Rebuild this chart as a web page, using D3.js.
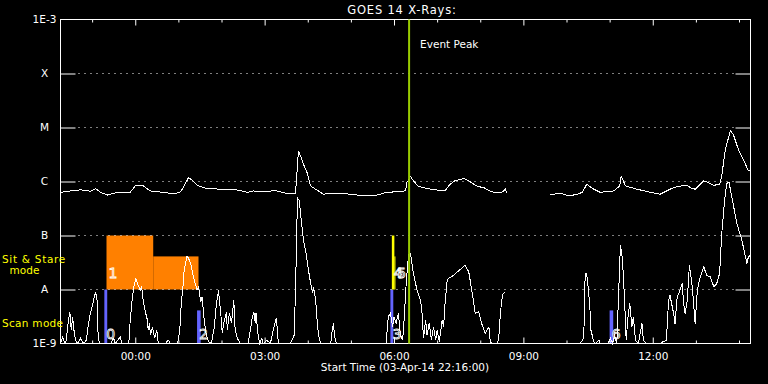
<!DOCTYPE html>
<html>
<head>
<meta charset="utf-8">
<script src="https://cdn.jsdelivr.net/npm/d3@7"></script>
<style>
body { margin: 0; background: #000; }
svg { display: block; background: #000; }
text { font-family: "DejaVu Sans", sans-serif; }
</style>
</head>
<body>
<svg id="main" width="768" height="384"></svg>
<script>
// GOES 14 X-ray flux, minutes after the start time and flux in W/m^2
var startTime = Date.UTC(2014, 3, 3, 22, 16);
var spanMinutes = 960;
var titleText = "GOES 14 X-Rays:";
var startLabel = "Start Time (03-Apr-14 22:16:00)";

var levelValues = [1e-3, 1e-4, 1e-5, 1e-6, 1e-7, 1e-8, 1e-9];
var levelLabels = ["1E-3", "X", "M", "C", "B", "A", "1E-9"];

// 1-8 A channel
var longChannel = [
  [0,6.3e-7],[14,6.7e-7],[28,7.0e-7],[42,6.6e-7],[49,7.4e-7],[56,6.3e-7],[65,5.6e-7],[79,6.3e-7],
  [97,6.3e-7],[104,8.3e-7],[115,8.3e-7],[125,6.7e-7],[143,6.3e-7],[157,5.9e-7],[167,6.4e-7],
  [172,8.3e-7],[178,1.17e-6],[183,1.07e-6],[190,8.5e-7],[204,7.4e-7],[223,7.2e-7],[232,7.0e-7],
  [241,7.2e-7],[260,6.3e-7],[268,6.7e-7],[282,6.4e-7],[299,6.8e-7],[315,6.0e-7],[327,6.1e-7],
  [329,1.47e-6],[331,3.69e-6],[334,2.98e-6],[338,2.09e-6],[343,1.47e-6],[348,8.3e-7],[355,7.2e-7],
  [366,5.8e-7],[376,6.1e-7],[394,6.0e-7],[413,5.6e-7],[440,5.6e-7],[454,6.3e-7],[463,6.4e-7],
  [480,6.7e-7],[482,9.6e-7],[487,1.24e-6],[491,1.03e-6],[498,8.1e-7],[515,7.2e-7],[535,6.7e-7],
  [540,8.3e-7],[547,1.01e-6],[561,1.14e-6],[568,1.03e-6],[580,8.1e-7],[589,7.7e-7],[600,6.4e-7],
  [614,6.3e-7],[619,7.2e-7],[621,6.1e-7],[650,null],[681,5.6e-7],[695,6.1e-7],[707,5.4e-7],
  [719,5.8e-7],[726,6.3e-7],[729,7.4e-7],[732,8.9e-7],[742,7.2e-7],[751,6.3e-7],[770,6.7e-7],
  [778,8.3e-7],[780,1.27e-6],[786,8.3e-7],[802,7.2e-7],[821,6.3e-7],[834,5.8e-7],[848,7.2e-7],
  [858,8.1e-7],[872,8.5e-7],[876,7.7e-7],[883,7.2e-7],[895,1.03e-6],[899,9.9e-7],[909,8.5e-7],
  [917,8.9e-7],[920,1.27e-6],[925,3.96e-6],[932,8.65e-6],[936,7.5e-6],[943,3.96e-6],[953,2.09e-6],
  [957,1.57e-6],[960,1.64e-6]
];

// 0.5-4 A channel (values under 1e-9 sit on the floor)
var shortChannel = [
  [0,9e-10],[3,1.3e-9],[6,9e-10],[8,1.15e-9],[11,2.7e-9],[13,3.85e-9],[15,1.76e-9],[17,3.1e-9],
  [18,2.03e-9],[21,1.15e-9],[24,9e-10],[28,1.25e-9],[32,9e-10],[36,1.15e-9],[39,2.38e-9],
  [42,3.85e-9],[45,5.5e-9],[47,7.2e-9],[49,9.0e-9],[51,6.3e-9],[52,1.76e-9],[54,9e-10],[70,9e-10],
  [74,1.25e-9],[76,9e-10],[83,1.32e-9],[86,9e-10],[95,9e-10],[97,2.7e-9],[100,7.3e-9],[103,1.31e-8],
  [105,1.6e-8],[107,1.31e-8],[111,9.7e-9],[113,1.12e-8],[115,6.3e-9],[118,3.85e-9],[121,2.7e-9],
  [122,1.76e-9],[124,2.38e-9],[125,1.42e-9],[128,2.03e-9],[131,1.25e-9],[134,1.76e-9],[136,9e-10],
  [146,9e-10],[150,1.15e-9],[153,9e-10],[163,9e-10],[166,1.76e-9],[168,5.5e-9],[170,9.7e-9],
  [172,2.28e-8],[176,4.1e-8],[178,3.8e-8],[181,3.07e-8],[185,1.71e-8],[190,9.7e-9],[192,1.12e-8],
  [195,5.9e-9],[197,7.3e-9],[200,2.7e-9],[203,1.42e-9],[206,1.07e-9],[210,9e-10],[214,2.03e-9],
  [217,5.5e-9],[220,9.7e-9],[221,6.3e-9],[223,3.64e-9],[225,1.55e-9],[228,2.7e-9],[231,3.85e-9],
  [232,1.76e-9],[235,3.64e-9],[238,2.38e-9],[241,6.3e-9],[242,3.85e-9],[243,1.76e-9],[246,1.25e-9],
  [250,9e-10],[261,9e-10],[264,1.76e-9],[267,3.1e-9],[269,3.85e-9],[271,2.38e-9],[272,3.64e-9],
  [275,1.42e-9],[277,9e-10],[280,1.25e-9],[282,9e-10],[287,1.15e-9],[292,9e-10],[296,1.76e-9],
  [300,2.94e-9],[302,1.76e-9],[303,9e-10],[320,9e-10],[325,1.42e-9],[327,9.7e-9],[329,1.92e-7],
  [330,4.9e-7],[332,4.5e-7],[335,1.92e-7],[338,8.2e-8],[341,5.3e-8],[345,2.28e-8],[348,1.31e-8],
  [351,8.5e-9],[352,1.12e-8],[355,6.3e-9],[357,2.7e-9],[359,1.42e-9],[362,9e-10],[376,9e-10],
  [378,1.76e-9],[380,2.38e-9],[381,1.42e-9],[384,9e-10],[453,9e-10],[456,3.1e-9],[459,3.64e-9],
  [462,2.03e-9],[464,3.1e-9],[467,2.38e-9],[470,3.64e-9],[473,1.42e-9],[476,1.15e-9],[478,2.7e-9],
  [481,1.31e-8],[484,4.1e-8],[486,4.97e-8],[488,3.8e-8],[491,2.0e-8],[496,9.7e-9],[501,6.3e-9],
  [503,3.64e-9],[505,1.25e-9],[508,2.7e-9],[510,1.42e-9],[513,2.38e-9],[516,1.15e-9],[519,2.03e-9],
  [522,1.15e-9],[524,1.76e-9],[527,1.07e-9],[531,2.7e-9],[533,2.03e-9],[535,5.5e-9],[538,1.49e-8],
  [540,1.6e-8],[547,1.84e-8],[556,2.34e-8],[563,2.82e-8],[568,2.12e-8],[573,8.4e-9],[577,3.6e-9],
  [582,3.85e-9],[586,2.34e-9],[591,1.55e-9],[596,2.03e-9],[598,1.07e-9],[602,9e-10],[608,9e-10],
  [610,1.42e-9],[612,3.64e-9],[614,6.3e-9],[616,8.5e-9],[619,9.0e-9],[650,null],[681,9e-10],
  [723,9e-10],[728,1.25e-9],[730,1.98e-8],[732,1.98e-8],[735,8.4e-9],[737,3.64e-9],[738,1.76e-9],
  [742,1.07e-9],[744,9e-10],[749,1.15e-9],[751,9e-10],[762,9e-10],[765,1.25e-9],[768,9e-10],
  [771,1.42e-9],[774,9e-10],[776,5.5e-9],[779,6.6e-8],[781,4.64e-8],[783,1.98e-8],[785,5.5e-9],
  [787,1.15e-9],[790,3.6e-9],[792,5.5e-9],[795,2.03e-9],[797,3.1e-9],[800,1.15e-9],[804,9e-10],
  [809,2.34e-9],[811,1.15e-9],[815,9e-10],[834,9e-10],[838,1.07e-9],[843,1.15e-9],[846,6.3e-9],
  [848,7.8e-9],[853,3.6e-9],[855,2.34e-9],[858,7.3e-9],[861,9.0e-9],[865,1.29e-8],[867,5.5e-9],
  [869,3.6e-9],[872,6.3e-9],[875,2.82e-8],[879,1.12e-8],[883,2.34e-9],[886,9.7e-9],[890,1.71e-8],
  [895,2.62e-8],[899,1.84e-8],[904,1.71e-8],[909,1.12e-8],[913,1.29e-8],[917,1.98e-8],[920,1.09e-7],
  [924,4.5e-7],[927,9.2e-7],[930,9.8e-7],[934,5.2e-7],[941,1.67e-7],[948,8.2e-8],[955,3.03e-8],
  [957,4.0e-8],[960,4.3e-8]
];

// observation blocks: label, start/end minute, bottom/top level
var obsIds   = ["0", "1", "", "2", "3", "4", "5", "6"];
var obsMode  = ["scan", "sit", "sit", "scan", "scan", "sit2", "sit2", "scan"];
var obsStart = [61, 64, 129, 190, 459, 461, 464.5, 764];
var obsEnd   = [65, 129, 192, 195, 463, 464.5, 466, 769];
var obsBase  = [1e-9, 1e-8, 1e-8, 1e-9, 1e-9, 1e-8, 1e-8, 1e-9];
var obsTop   = [1e-8, 1e-7, 4.1e-8, 4.1e-9, 1e-8, 1e-7, 4.1e-8, 4.1e-9];

var eventPeak = 485;

var margin = {top: 19, right: 18, bottom: 41, left: 60};
var svg = d3.select("#main"),
    width = +svg.attr("width") - margin.left - margin.right,
    height = +svg.attr("height") - margin.top - margin.bottom;

var t = function(m) { return new Date(startTime + m * 60000); };

var xScale = d3.scaleUtc()
        .domain([t(0), t(spanMinutes)])
        .range([0, width]),
    yScale = d3.scaleLog()
        .domain([1e-9, 1e-3])
        .range([height, 0])
        .clamp(true),
    modeColor = d3.scaleOrdinal()
        .domain(["scan", "sit", "sit2"])
        .range(["#6464ff", "#ff8000", "#ffff00"]),
    g = svg.append("g")
        .attr("transform", "translate(" + (margin.left + 0.5) + "," + (margin.top + 0.5) + ")");

// observation blocks
var obs = obsIds.map(function(id, i) {
    return {id: id, mode: obsMode[i], s: obsStart[i], e: obsEnd[i], b: obsBase[i], top: obsTop[i]};
});
g.selectAll(".obs").data(obs).enter().append("rect")
    .attr("class", "obs")
    .attr("x", function(d) { return xScale(t(d.s)); })
    .attr("width", function(d) { return xScale(t(d.e)) - xScale(t(d.s)); })
    .attr("y", function(d) { return yScale(d.top); })
    .attr("height", function(d) { return yScale(d.b) - yScale(d.top); })
    .attr("fill", function(d) { return modeColor(d.mode); });

// dotted level lines
g.selectAll(".grid").data(levelValues.slice(1, 6)).enter().append("line")
    .attr("class", "grid")
    .attr("x1", 18).attr("x2", width - 15)
    .attr("y1", function(d) { return yScale(d); })
    .attr("y2", function(d) { return yScale(d); })
    .attr("stroke", "#fff")
    .attr("stroke-dasharray", "1,5");

// curves
var line = d3.line()
    .defined(function(d) { return d[1] != null; })
    .x(function(d) { return xScale(t(d[0])); })
    .y(function(d) { return yScale(d[1]); });

[longChannel, shortChannel].forEach(function(series) {
    g.append("path")
        .attr("d", line(series))
        .attr("fill", "none")
        .attr("stroke", "#fff")
        .attr("stroke-width", 1)
        .attr("shape-rendering", "crispEdges");
});

// observation labels
g.selectAll(".obsLabel").data(obs.filter(function(d) { return d.id !== ""; })).enter().append("text")
    .attr("class", "obsLabel")
    .attr("x", function(d) { return xScale(t(d.s)) + 2 + (d.id === "5" ? 1 : 0); })
    .attr("y", function(d) { return d.mode === "scan" ? height - 5 : yScale(d.b) - 12; })
    .attr("font-size", "14px")
    .attr("fill", "none")
    .attr("stroke", "#fff")
    .attr("stroke-width", 0.8)
    .text(function(d) { return d.id; });

// frame
g.append("rect")
    .attr("width", width).attr("height", height)
    .attr("fill", "none").attr("stroke", "#fff");

// time axes
var hourTicks = d3.utcHour.every(1);
var fmt = d3.utcFormat("%H:%M");
var xb = g.append("g")
    .attr("class", "axis xAxis")
    .attr("transform", "translate(0," + height + ")")
    .call(d3.axisBottom(xScale).ticks(hourTicks).tickSize(-3).tickSizeOuter(0).tickPadding(9)
        .tickFormat(function(d) { return d.getUTCHours() % 3 ? "" : fmt(d); }));
var xt = g.append("g")
    .attr("class", "axis xAxis")
    .call(d3.axisTop(xScale).ticks(hourTicks).tickSize(-3).tickSizeOuter(0).tickFormat(""));
[xb, xt].forEach(function(a) {
    a.select(".domain").remove();
    a.selectAll("line").attr("stroke", "#fff");
    a.selectAll(".tick").filter(function(d) { return d.getUTCHours() % 3 === 0; })
        .select("line").attr("y2", 6);
});
xb.selectAll(".tick").filter(function(d) { return d.getUTCHours() % 3 === 0; })
    .select("line").attr("y2", -6);
xb.selectAll("text")
    .attr("fill", "#fff")
    .attr("font-family", "DejaVu Sans")
    .attr("font-size", "10.5px");

// level axes
var yl = g.append("g")
    .call(d3.axisLeft(yScale).tickValues(levelValues.slice(1, 6)).tickSize(-15).tickFormat(""));
var yr = g.append("g")
    .attr("transform", "translate(" + width + ",0)")
    .call(d3.axisRight(yScale).tickValues(levelValues.slice(1, 6)).tickSize(-15).tickFormat(""));
[yl, yr].forEach(function(a) {
    a.select(".domain").remove();
    a.selectAll("line").attr("stroke", "#fff");
});
g.selectAll(".levelLabel").data(levelValues).enter().append("text")
    .attr("class", "levelLabel")
    .attr("x", -16)
    .attr("y", function(d) { return yScale(d); })
    .attr("dy", "0.36em")
    .attr("text-anchor", "middle")
    .attr("font-size", "10.5px")
    .attr("fill", "#fff")
    .text(function(d, i) { return levelLabels[i]; });

// event peak
var ex = xScale(t(eventPeak));
g.append("line")
    .attr("x1", ex).attr("x2", ex)
    .attr("y1", 0).attr("y2", height)
    .attr("stroke", "#99cc00")
    .attr("stroke-width", 2);
g.append("text")
    .attr("x", ex + 11).attr("y", 28)
    .attr("font-size", "10.5px")
    .attr("fill", "#fff")
    .text("Event Peak");

// titles
svg.append("text")
    .attr("x", margin.left + width / 2 - 3).attr("y", 14)
    .attr("text-anchor", "middle")
    .attr("font-size", "11.5px")
    .attr("letter-spacing", "0.8px")
    .attr("fill", "#fff")
    .text(titleText);
svg.append("text")
    .attr("x", margin.left + width / 2).attr("y", 371)
    .attr("text-anchor", "middle")
    .attr("font-size", "10.5px")
    .attr("fill", "#fff")
    .text(startLabel);

// mode key
var key = svg.append("g").attr("font-size", "10.5px").attr("fill", "#ffff00");
key.append("text").attr("x", 2).attr("y", 263).attr("letter-spacing", "0.7px").text("Sit & Stare");
key.append("text").attr("x", 24.5).attr("y", 274).attr("text-anchor", "middle").text("mode");
key.append("text").attr("x", 2).attr("y", 327).attr("letter-spacing", "0.3px").text("Scan mode");
</script>
</body>
</html>
